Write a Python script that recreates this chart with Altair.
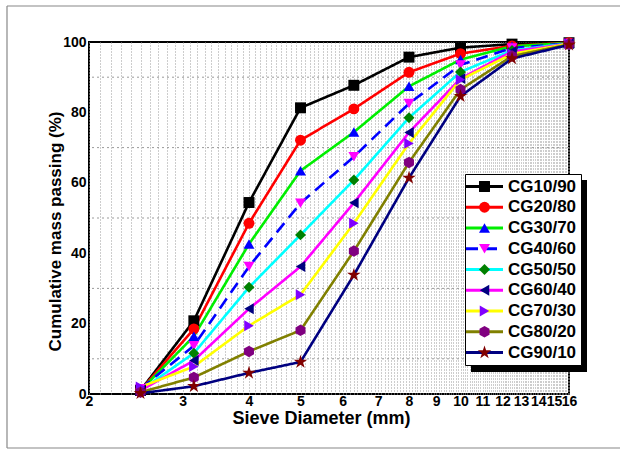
import altair as alt
import pandas as pd

# ---------------- data ----------------
sieve_mm = [2.5, 3.15, 4, 5, 6.3, 8, 10, 12.5, 16]
series_names = ["CG10/90", "CG20/80", "CG30/70", "CG40/60", "CG50/50",
                "CG60/40", "CG70/30", "CG80/20", "CG90/10"]
cg10_90 = [1.0, 20.8, 54.4, 81.3, 87.7, 95.7, 98.4, 99.4, 99.8]
cg20_80 = [1.0, 18.5, 48.5, 72.1, 81.0, 91.4, 96.7, 98.9, 99.8]
cg30_70 = [1.0, 16.4, 42.6, 63.4, 74.4, 87.4, 95.0, 98.8, 99.7]
cg40_60 = [1.5, 13.7, 36.2, 54.2, 67.4, 82.5, 93.5, 98.3, 99.6]
cg50_50 = [1.0, 11.6, 30.3, 45.2, 60.8, 78.5, 91.5, 97.6, 99.6]
cg60_40 = [1.0, 9.5, 24.2, 36.2, 54.3, 74.3, 89.6, 97.3, 99.5]
cg70_30 = [2.0, 7.8, 19.4, 28.2, 48.5, 71.2, 89.3, 96.6, 99.5]
cg80_20 = [0.5, 4.7, 12.1, 18.1, 40.6, 65.8, 86.5, 96.0, 99.3]
cg90_10 = [0.2, 2.2, 6.0, 9.1, 33.8, 61.4, 84.6, 95.3, 99.2]
all_values = [cg10_90, cg20_80, cg30_70, cg40_60, cg50_50,
              cg60_40, cg70_30, cg80_20, cg90_10]

y_tick_values = [0, 20, 40, 60, 80, 100]
y_grid_values = [10, 30, 50, 70, 90]
x_tick_values = [v / 10 for v in range(20, 161)]   # grid every 0.1 mm

# ---------------- styles ----------------
line_colors = ["#000000", "#ff0000", "#00ee00", "#0000ff", "#00ffff",
               "#ff00ff", "#ffff00", "#808000", "#000080"]
marker_colors = ["#000000", "#ff0000", "#0000ff", "#ff00ff", "#008000",
                 "#000080", "#8000ff", "#800080", "#800000"]
STAR = ("M0,-1.3L0.29,-0.4L1.236,-0.402L0.469,0.152L0.764,1.052L0,0.494"
        "L-0.764,1.052L-0.469,0.152L-1.236,-0.402L-0.29,-0.4Z")
HEX = "M0,-1.05L0.91,-0.525L0.91,0.525L0,1.05L-0.91,0.525L-0.91,-0.525Z"
marker_shapes = ["square", "circle", "triangle-up", "triangle-down", "diamond",
                 "triangle-left", "triangle-right", HEX, STAR]
line_dashes = [[1, 0], [1, 0], [1, 0], [12, 7], [1, 0],
               [1, 0], [1, 0], [1, 0], [1, 0]]

FONT = "Liberation Sans"

rows = []
for name, vals in zip(series_names, all_values):
    for x, y in zip(sieve_mm, vals):
        rows.append({"series": name, "series_m": name,
                     "sieve": x, "passing": y})
df = pd.DataFrame(rows)

x_scale = alt.Scale(type="log", domain=[2, 16], nice=False, zero=False)
y_scale = alt.Scale(domain=[0, 100], nice=False)

x_axis = alt.Axis(values=x_tick_values, grid=True, gridDash=[1, 2],
                  gridColor="#9a9a9a", gridWidth=1, ticks=False, domain=False,
                  labelExpr="datum.value % 1 == 0 ? format(datum.value, 'd') : ''",
                  labelOverlap=False, labelFlush=False, labelFont=FONT,
                  labelFontWeight="bold", labelFontSize=14, labelColor="black",
                  labelPadding=0, title="Sieve Diameter (mm)", titleFont=FONT,
                  titleFontWeight="bold", titleFontSize=18, titleColor="black",
                  titleX=232, titleY=29, titleAlign="center",
                  titleBaseline="alphabetic")
y_axis = alt.Axis(values=y_tick_values, grid=False, ticks=False, domain=False,
                  labelFont=FONT, labelFontWeight="bold", labelFontSize=14,
                  labelColor="black", labelPadding=3,
                  title="Cumulative mass passing (%)", titleFont=FONT,
                  titleFontWeight="bold", titleFontSize=17, titleColor="black",
                  titleX=-34, titleY=189, titleAngle=270, titleAlign="center",
                  titleBaseline="middle")

LINE_PATH = "M-3.83,0H8.5"
common_leg = dict(orient="none", title=None, labelFont=FONT,
                  labelFontWeight="bold", labelFontSize=17, padding=4,
                  rowPadding=2.75, labelLimit=200, legendY=132)

line_legend = alt.Legend(legendX=376, symbolType=LINE_PATH,
                         symbolSize=36, symbolStrokeWidth=3, labelOffset=22,
                         fillColor="white", strokeColor="black",
                         labelColor="black", zindex=1, **common_leg)
marker_legend = alt.Legend(legendX=383, symbolSize=120,
                           symbolStrokeWidth=0, symbolOpacity=1,
                           labelExpr="''", zindex=2, **common_leg)

base = alt.Chart(df)
X = alt.X("sieve:Q", scale=x_scale, axis=x_axis)
Y = alt.Y("passing:Q", scale=y_scale, axis=y_axis)

ygrid = alt.Chart(pd.DataFrame({"g": y_grid_values})).mark_rule(
    color="#9a9a9a", strokeDash=[2, 3], strokeWidth=1
).encode(y=alt.Y("g:Q", scale=y_scale, axis=y_axis))

# series names sort alphabetically in the listed order, so the default
# data-driven domains keep the legend order
lines = base.mark_line(strokeWidth=2.6, opacity=1).encode(
    x=X, y=Y,
    stroke=alt.Stroke("series:N", scale=alt.Scale(range=line_colors),
                      legend=line_legend),
    strokeDash=alt.StrokeDash("series:N", scale=alt.Scale(range=line_dashes),
                              legend=line_legend),
)

points = base.mark_point(filled=True, opacity=1, size=120, strokeWidth=0).encode(
    x=X, y=Y,
    fill=alt.Fill("series_m:N", scale=alt.Scale(range=marker_colors),
                  legend=marker_legend),
    shape=alt.Shape("series_m:N", scale=alt.Scale(range=marker_shapes),
                    legend=marker_legend),
)

# decorations: legend drop shadow and outer figure frame
deco = alt.Chart(pd.DataFrame({"k": [0]}))
legend_shadow = deco.mark_rect(color="black").encode(
    x=alt.value(382), x2=alt.value(498), y=alt.value(138), y2=alt.value(330))
frame_top = deco.mark_rule(color="#888888", strokeWidth=1.2).encode(
    x=alt.value(-82), x2=alt.value(540), y=alt.value(-36), y2=alt.value(-36))
frame_bottom = deco.mark_rule(color="#888888", strokeWidth=1.2).encode(
    x=alt.value(-82), x2=alt.value(540), y=alt.value(406), y2=alt.value(406))
frame_left = deco.mark_rule(color="#888888", strokeWidth=1.2).encode(
    x=alt.value(-82), x2=alt.value(-82), y=alt.value(-36), y2=alt.value(406))

chart = alt.layer(ygrid, lines, points, legend_shadow,
                  frame_top, frame_bottom, frame_left).properties(
    width=480, height=352, autosize="none", background="white",
    padding={"left": 89, "top": 42, "right": 51, "bottom": 55},
).configure_view(stroke="black", strokeWidth=2)

chart.save("out.html", embed_options={"renderer": "svg", "actions": False})
